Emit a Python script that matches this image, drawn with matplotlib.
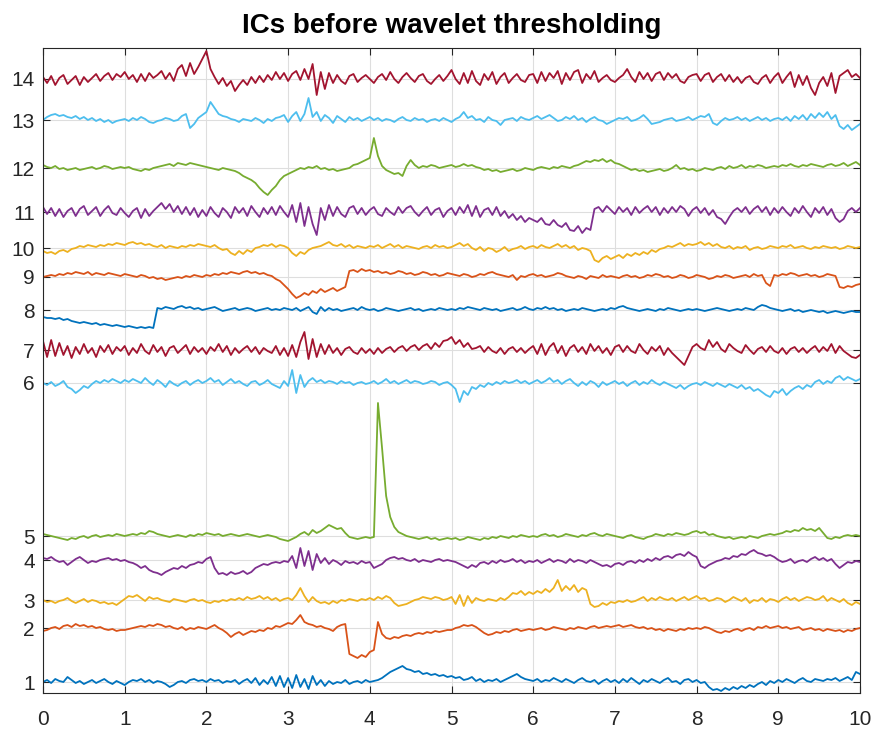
import numpy as np
import matplotlib.pyplot as plt

# time axis: samples every 0.05 s from 0 to 10 s
t = np.linspace(0, 10, 201)

# baseline of each IC (axis units, bottom of the plot = 0)
offsets = [11, 65, 93, 133, 157, 310, 343, 383, 416, 445, 481, 525, 573, 614]
labels = [str(i) for i in range(1, 15)]

# deviations from the baseline (one row per second)
ic1 = [0, 2, -1, 3, 1, 0, 5, 2, -1, 1, -2, 0, 2, -1, 1, 3, 0, -2, 1, -1,
       -3, 0, 2, 1, 3, 0, 2, -1, 1, 0, -2, -5, -3, 0, 1, -1, 2, 3, 1, 2,
       0, 3, 1, 2, -1, 1, 0, 2, -2, 1, 3, -1, 4, -3, 2, -2, 5, -4, 6, -5,
       4, -6, 7, -5, 3, -7, 6, -3, 2, -4, 1, -2, 0, -1, 2, -2, 0, 1, -1, 2,
       0, 1, 2, 4, 7, 10, 12, 14, 16, 13, 12, 10, 11, 8, 9, 7, 8, 6, 7, 5,
       6, 4, 5, 2, 3, 5, 1, 3, 0, 2, 1, 3, 0, 2, 4, 6, 8, 5, 3, 2,
       1, 3, 0, 2, 1, 4, 2, 0, 3, 1, -1, 2, 4, 1, 0, 2, -2, 1, 3, 0,
       2, -1, 3, 0, 4, 1, -2, 2, 0, 3, 1, -1, 2, 4, 0, 1, -2, 2, 3, 0,
       2, -1, 0, -5, -8, -7, -9, -6, -8, -5, -7, -4, -6, -3, -5, -2, 0, -3, 1, -1,
       2, 0, 3, 1, -1, 2, 4, 1, 0, 3, 2, 1, 3, 2, 4, 1, 3, 5, 2, 10,
       8]
ic2 = [-3, -2, 0, 1, -1, 2, 3, 1, 4, 2, 3, 1, 2, 0, 1, -1, -2, -1, -3, -2,
       -2, -1, 0, 1, 2, 1, 3, 2, 4, 3, 1, 2, 0, -1, 1, -2, 0, -1, 1, 0,
       -1, 1, 3, 0, -2, -5, -9, -6, -4, -7, -5, -3, -4, -2, -3, 0, -1, 2, 1, 3,
       5, 4, 8, 13, 6, 4, 3, 1, 2, 0, -1, -3, 1, 3, 4, -26, -28, -30, -27, -29,
       -24, -22, 6, -6, -10, -11, -9, -10, -8, -7, -8, -6, -5, -6, -4, -5, -3, -4, -3, -2,
       -2, 0, 1, 3, 2, 3, 1, -2, -5, -7, -6, -4, -5, -3, -4, -2, -1, -3, -2, -1,
       -2, -1, 0, -2, -1, 1, 0, -1, -2, 0, -1, 1, 0, -1, 1, 2, 0, 1, 2, 1,
       2, 3, 1, 2, 3, 1, 0, 1, -1, 0, -2, -1, -3, -1, -2, -3, -1, -2, 0, -1,
       0, -1, 1, 0, -2, -4, -5, -3, -4, -2, -1, -3, -1, 0, -2, 1, 0, 2, 0, 1,
       2, 0, 1, -1, 0, 1, -2, -1, 0, -2, -1, -3, -1, -2, -3, -2, -4, -2, -3, -1,
       0]
ic3 = [0, -2, -1, -3, -1, 0, 2, -1, -3, -1, 1, -2, 0, -1, -3, -2, -4, -3, -5, -2,
       1, 4, 3, 5, 2, -1, 3, 1, 2, 0, -1, -2, 1, 0, -1, -2, 0, 1, -1, 0,
       -2, -3, -1, -2, 0, -1, 1, 0, 2, 0, 3, 1, 2, 4, 1, 3, 0, 2, -1, 1,
       2, 0, 5, 12, 4, -2, 3, -1, -3, -2, -4, -1, -3, 0, -1, 1, 0, -1, 1, 0,
       2, 0, 3, 1, 4, 2, -3, -6, -5, -4, -2, 0, 1, 3, 2, 1, 3, 2, 0, 1,
       3, -4, 5, -6, 4, -3, 2, 0, -1, 1, 0, -1, 2, 0, 3, 7, 6, 9, 5, 8,
       6, 9, 7, 11, 8, 12, 20, 9, 14, 10, 15, 8, 12, 10, -4, -7, -6, -3, -5, -2,
       -3, -1, -2, 0, -2, -1, 1, 3, -1, 2, 0, 3, 1, 0, 2, -1, 1, 3, 0, 2,
       4, 1, 2, -1, 0, 2, 1, -2, 0, 3, 1, -1, 2, -3, 0, -1, 2, -2, 1, 0,
       -2, 1, 3, 0, 2, -1, 1, 3, 2, 0, 1, 4, -1, 2, 0, -2, 1, -3, -5, -2,
       -4]
ic4 = [2, 1, 3, 0, -2, -1, -5, -2, 1, 3, 0, -3, -1, -2, 0, 1, 2, 0, 1, -1,
       0, -2, -3, -5, -8, -6, -10, -12, -13, -15, -12, -10, -8, -9, -6, -8, -5, -4, -2, -3,
       1, 3, -8, -14, -13, -15, -12, -14, -13, -11, -14, -12, -8, -6, -4, -5, -3, -2, -3, -1,
       -2, 4, -8, 12, -6, 9, -10, 6, -3, 2, -4, 0, -2, -5, -1, -3, -2, -4, -1, -3,
       -2, -8, -6, -4, 0, 2, 3, 1, 2, 0, -1, 1, -2, 0, -1, -2, 0, 1, -1, 0,
       -1, -2, -4, -6, -8, -5, -7, -3, -2, -4, -1, -3, 0, -2, -1, 1, -2, 0, -3, -1,
       -2, 0, -3, -1, 1, -2, 0, -1, -3, 1, -2, 0, -1, -3, 0, -2, -4, -6, -5, -7,
       -4, -3, -5, -2, -1, -3, 0, -2, 1, -1, 2, 0, 3, 4, 2, 5, 6, 4, 8, 5,
       3, -6, -8, -5, -3, -1, 0, 2, 1, 4, 3, 6, 5, 8, 10, 7, 6, 4, 5, 3,
       0, -2, -1, 1, -3, -1, 0, -2, 1, 3, 0, 2, -1, 1, -4, -8, -5, -2, -3, -1,
       -2]
ic5 = [2, 1, 0, -1, -2, -3, -4, -2, -3, -1, 0, -2, 0, 1, -1, 0, 1, 0, 2, 1,
       0, 1, 2, 1, 3, 2, 5, 4, 2, 1, 0, -1, 0, 1, 0, -1, 1, 0, 2, 1,
       3, 2, 1, 2, 0, 1, 2, 1, 0, 1, 2, 1, 0, -1, 0, 1, 0, -1, -3, -4,
       -5, -3, -1, 2, 4, 1, 6, 3, 5, 8, 11, 9, 7, 8, 3, -1, -2, -3, -2, -1,
       -2, -1, 133, 88, 40, 19, 9, 4, 2, 0, -1, -2, -3, -2, -1, -3, -2, -4, -3, -2,
       -3, -2, -4, -3, -1, -2, -3, -4, -2, -3, -1, -2, 0, -1, -2, 0, -1, 1, 0, -1,
       0, -1, 1, 2, 0, 1, -1, 0, 2, 1, 0, -1, 1, 0, 2, 3, 1, 0, 2, 1,
       0, -1, -2, 0, 1, -1, -2, -3, -1, 0, 2, 1, 0, 2, 1, 3, 2, 1, 2, 4,
       5, 3, 4, 1, 2, 0, -1, -2, -1, -3, -2, -1, -2, 0, -1, -2, 0, 1, 2, 1,
       2, 3, 5, 4, 6, 5, 8, 6, 7, 5, 8, 3, -2, -3, -1, -2, 0, 1, 0, 1,
       0]
ic6 = [0, -2, 1, -3, -1, 2, -4, -6, -10, -7, -3, -5, -1, 2, 0, 3, 1, 4, 2, 0,
       3, 1, 4, 2, 0, 5, 1, -2, 3, 0, -4, 2, -1, -3, 0, 2, -2, 1, 3, 0,
       2, 5, 1, 3, -2, 1, 4, 0, 2, -1, -3, 1, 2, -2, 0, 3, -1, -3, -5, 2,
       -3, 13, -10, 8, -4, 2, 5, 1, 3, 0, 2, 1, -1, 2, 0, 1, -2, 0, 1, -1,
       0, 2, -1, 1, 4, 0, 2, -1, 1, 3, 0, 2, 1, -1, 0, 2, 1, -2, 0, 1,
       -2, -6, -19, -8, -12, -4, -6, -2, -4, 0, -2, 1, -1, 2, 0, 1, 3, 0, 2, -1,
       1, 3, 0, 2, 5, 1, 3, -1, 2, 4, 0, -3, 1, -2, 2, 0, -4, 1, -2, 0,
       2, -1, 1, -3, 0, 2, -2, 1, -1, 3, 0, -2, 1, -1, -3, -5, -2, -6, -3, -1,
       0, -2, 1, -1, -3, 0, -2, -4, -1, -3, -5, -2, -6, -4, -8, -6, -9, -12, -14, -8,
       -10, -6, -12, -8, -5, -3, -6, -2, -4, 1, 3, -1, 2, 0, 5, 7, 3, 6, 4, 2,
       4]
ic7 = [9, -7, 10, -6, 7, -5, 4, -8, 3, -4, 6, -3, 2, -7, 4, -2, 5, -4, 3, -1,
       4, -5, 2, -3, 6, -1, -4, 5, -2, 3, -6, 2, 4, -3, 1, 5, -4, 3, -2, 2,
       -4, 3, -1, 6, -2, 4, -5, 2, -3, 1, 4, -2, 3, -4, 2, -1, -3, 4, -5, 2,
       -6, 5, -7, 8, 18, -9, 11, -7, 6, -4, 5, -3, 2, -5, 1, 3, -2, -4, 2, -3,
       1, -4, 2, -3, 1, 3, -2, 2, 4, -1, 3, 5, 0, 4, 6, 1, 7, 3, 9, 10,
       13, 6, 10, 3, 7, 1, 2, 4, -2, 3, -1, -3, 2, -4, 1, 3, -2, 2, -3, 1,
       4, -4, 6, -5, 3, 7, -3, 4, -6, 2, 5, -2, 3, -4, 6, -1, 4, -3, 2, -5,
       3, 5, -2, 4, -1, -3, 6, 0, -4, 3, -1, 4, -5, 2, -3, -7, -11, -15, -6, 3,
       6, 2, 0, 10, 3, 8, 1, -2, 6, 2, -1, -3, 5, 0, -4, 1, 3, -2, 4, -1,
       -3, 2, -4, 1, 3, -2, 2, -3, 1, 4, -2, 3, -1, 6, -3, 4, -1, -4, -7, -8,
       -5]
ic8 = [-7, -8, -8, -9, -8, -10, -9, -11, -12, -13, -12, -13, -14, -13, -15, -14, -15, -16, -15, -16,
       -17, -16, -17, -18, -17, -18, -17, -18, 2, 1, 3, 2, 1, 3, 4, 2, 3, 1, 2, 0,
       1, 2, 3, 1, -1, 0, 1, 2, 0, 1, 2, 1, -1, 0, 1, 2, 0, 1, 0, 2,
       1, 0, 2, -1, 1, 3, -2, -4, 3, -1, 2, 0, 1, -1, 0, 1, 2, 0, 3, 1,
       0, 1, -1, 0, 2, 1, 0, -1, 0, 1, 2, 0, 1, -1, 0, 1, 0, 2, 1, 0,
       1, 0, 2, 1, 3, 2, 1, 0, 2, 1, 0, 1, -1, 0, 1, 2, 0, 1, 3, 1,
       0, 2, 1, 3, 1, 2, 0, 1, -1, 0, 1, 0, 2, 1, 0, -1, 0, 1, 0, 2,
       1, 3, 4, 2, 1, 0, -1, 0, 1, 0, -1, 1, 0, 2, 1, 0, -1, 0, 1, 0,
       1, 0, -1, 0, 1, 2, 1, 0, -1, 0, 1, 0, 2, 1, 0, 3, 5, 4, 2, 1,
       0, -1, 0, 1, -1, 0, -2, -1, 0, -1, -2, -1, -3, -2, -1, -2, -3, -2, -1, -2,
       -2]
ic9 = [0, 1, 2, 1, 3, 2, 4, 3, 5, 4, 3, 5, 2, 4, 3, 2, 4, 3, 2, 1,
       3, 2, 1, 0, 2, 1, -1, 0, -2, -1, -3, -2, -1, 0, -1, 1, 0, 2, 1, 0,
       2, 1, 3, 2, 4, 3, 5, 4, 3, 5, 6, 4, 5, 3, 4, 2, 1, -2, -4, -8,
       -12, -17, -21, -19, -16, -18, -14, -16, -12, -15, -13, -11, -14, -12, -10, 6, 7, 5, 8, 6,
       7, 5, 6, 4, 5, 3, 4, 6, 5, 3, 4, 2, 3, 5, 4, 2, 3, 1, 2, 4,
       3, 2, 1, 3, 2, 0, 1, 3, 2, 4, 5, 3, 2, 1, 0, 2, -3, 1, 0, 2,
       3, 1, 2, 0, 1, 2, 4, 3, 1, 0, -1, 1, 0, -2, 1, 0, -1, 2, 0, 1,
       0, -1, 1, 2, 0, 1, -1, 0, 2, 1, 3, 2, 0, 1, -1, 0, 2, 1, -1, 0,
       2, 1, 0, -2, -1, 1, 0, 2, 1, -1, 0, 1, 2, 0, 3, 1, 2, -6, -9, 2,
       1, 3, 2, 4, 3, 1, 2, 3, 1, 2, 0, 1, 3, 2, 1, -10, -11, -9, -10, -8,
       -7]
ic10 = [-3, -5, -4, -6, -3, -2, -4, -1, 0, 2, 1, 3, 2, 1, 3, 2, 4, 3, 5, 4,
        3, 5, 6, 4, 5, 3, 4, 2, 1, 3, 0, 2, 1, 0, 2, 1, 3, 2, 4, 3,
        2, 1, 3, 0, -2, -1, -5, -7, -3, -6, -2, -4, 0, 1, 3, 2, 4, 1, 3, 2,
        0, -5, -8, -4, -6, -2, 0, 1, 2, 4, 6, 3, 2, 4, 1, 3, 0, 2, 1, 0,
        2, 1, 3, 0, 2, 4, 1, 3, 0, 2, 1, 0, -1, 1, 2, 0, 3, 1, 2, 0,
        1, 3, 5, 2, 4, 0, -2, 1, -3, 0, -1, -4, -2, 1, -3, -1, 0, 2, -1, 1,
        2, 0, 3, 1, 0, 2, 4, 1, 3, 0, 2, -2, 0, -1, -3, -12, -14, -10, -8, -11,
        -9, -7, -10, -6, -8, -5, -7, -4, -6, -2, -4, -1, 0, 2, 1, 3, 5, 2, 4, 3,
        4, 6, 3, 5, 2, 4, 1, 0, 2, -1, 1, 0, 2, -2, 0, 1, -1, 0, 2, 1,
        0, 2, 1, 3, 0, 1, 2, 0, -1, 1, 0, 2, 1, 0, 1, -1, 0, 2, 1, 0,
        1]
ic11 = [5, -2, 4, -4, 3, -5, 1, 4, -4, 3, 6, -3, 1, 5, -4, 2, 6, -1, -3, 4,
        -1, -5, 1, 4, -6, 3, -4, 1, 5, 9, 3, 8, 0, 6, -2, 5, -3, 4, -5, 2,
        -4, 5, -1, -5, 4, 0, -6, 5, -1, 4, -4, 6, 0, -5, 4, -2, 5, -3, 6, 0,
        -5, 7, -10, 9, -14, 5, -12, -23, 4, -8, 7, -4, 5, -2, -5, 4, 6, -2, 4, -3,
        2, 5, -2, -4, 4, 0, -3, 5, -1, 4, 6, 0, -4, 1, 5, -3, 2, 4, -5, 1,
        4, -3, 5, -1, 7, -4, 6, -5, 2, 4, -3, 5, -4, 1, -6, -2, -8, -4, -10, -6,
        -8, -10, -6, -12, -13, -8, -13, -15, -11, -18, -19, -14, -21, -16, -18, 3, 5, 0, 6, 2,
        -2, 5, 0, 4, -3, 5, -1, 3, 6, 0, 5, -3, 4, -1, 5, 0, 6, 3, -4, 2,
        5, -1, 4, -3, 2, -5, -7, -12, -5, 1, 4, 0, 5, -2, 3, 6, 0, 5, -3, 4,
        -1, 5, 0, -4, 4, -1, 6, 0, -5, 4, -1, 5, -3, 3, -6, -10, -7, 1, 4, 0,
        4]
ic12 = [3, 1, 0, 2, -1, 0, -2, -1, 0, -2, -1, 0, 1, -1, 0, 2, 1, -1, 0, 1,
        0, 1, -1, -2, -3, -1, -2, 0, 1, 2, 3, 4, 2, 5, 4, 3, 5, 4, 3, 2,
        1, 0, -1, -2, 0, -1, -2, -3, -5, -8, -10, -12, -15, -20, -24, -27, -22, -18, -12, -8,
        -6, -4, -2, 0, -1, 1, 0, 2, -1, 0, -2, -1, -3, -2, -1, 0, 3, 4, 6, 8,
        10, 30, 12, 2, -2, -4, -6, -5, -8, 2, 8, 3, 0, 2, 1, 3, 2, 0, 1, 2,
        3, 1, 2, 4, 2, 3, 1, 0, -2, -1, -3, -2, -4, -3, -2, -1, -3, -2, 0, -1,
        -2, 0, 1, 0, -1, 1, 0, 2, 1, 0, 2, 3, 5, 7, 6, 8, 7, 9, 6, 8,
        5, 4, 2, 0, -2, -1, -3, -2, -4, -3, -2, -1, -3, -2, 0, 3, -1, 0, -2, -1,
        -3, -2, 0, -1, -2, 0, 1, -1, 2, 0, 1, 3, 0, 2, 1, 3, 2, 0, 1, 2,
        1, 3, 2, 4, 2, 1, 3, 2, 4, 3, 2, 1, 3, 4, 2, 3, 5, 2, 4, 6,
        3]
ic13 = [0, 3, 5, 6, 4, 5, 3, 2, 4, 1, 3, 0, 2, -1, 1, -2, 0, -3, -1, 0,
        1, -1, 2, 0, 3, 1, -2, -3, -1, 0, 2, 1, -1, 0, 4, 6, -8, -4, 2, 5,
        8, 18, 12, 6, 4, 3, 1, 0, -2, 1, 0, -1, 2, 0, -3, 1, -1, 2, 3, 5,
        -2, 4, 8, -1, 6, 22, 3, 8, -1, 5, 2, -3, 4, 1, -2, 3, 0, 2, -1, 1,
        3, 0, 2, -1, 1, 0, -2, 1, 3, 0, -1, 2, 0, 1, -2, 0, 1, -1, 2, 0,
        -2, 1, 3, 8, 2, 4, 0, 1, -2, 3, 0, -1, -5, 0, 1, 2, -1, 3, 1, 0,
        2, 4, 1, 3, 5, 2, -1, 0, 3, 1, 4, 0, 2, -2, 1, 3, 0, -1, -4, -2,
        0, 2, 1, 3, -1, 0, 2, 5, 1, -4, -3, -2, 0, 1, 2, -1, 0, 1, 3, 0,
        2, 4, 3, 6, -3, -5, -1, 2, 0, 1, 3, 0, 2, -1, 1, 3, 0, 2, -1, 1,
        2, 0, 3, -1, 4, 1, 5, 0, 6, 2, 7, 3, 8, 1, 5, -6, -9, -5, -10, -7,
        -4]
ic14 = [2, -4, 3, -6, 1, 4, -5, -1, 3, -6, 2, -3, 1, 5, -2, 3, 6, -1, 5, 2,
        7, 0, 4, -3, 5, -2, 6, 1, 4, 8, 0, 6, -2, 10, 14, 3, 16, 5, 12, 20,
        28, 10, 2, -5, 1, -7, -2, -12, -6, -1, -6, 2, -4, 3, -3, 4, -1, 7, 0, 6,
        -2, 5, 8, -1, 10, 0, 15, -16, 7, -10, 6, -4, 4, -2, -5, 3, 5, -3, 1, 4,
        0, -4, 2, 5, -1, 7, 0, -4, 2, 6, 1, -3, 3, 5, -2, -5, 0, 4, -2, 3,
        9, 0, -5, 6, -4, 8, -2, -6, 5, -1, 7, -5, 2, 6, -4, 1, 5, -1, -3, 4,
        5, -4, 7, -2, 6, 1, 8, -5, 6, -1, 7, 9, -4, 5, 0, 8, -3, 1, 4, -1,
        -3, 1, 4, 10, 2, -3, 7, 0, 6, -2, 5, 7, -1, 6, 1, 5, -2, -4, 2, 4,
        5, -2, 4, 6, -3, 2, 5, -2, 4, -3, 2, -4, 1, 3, -3, -5, 1, 4, -4, 2,
        6, -4, 2, 7, -8, 4, -6, 3, -9, -16, -4, 2, -7, 6, -14, 3, 6, 9, 2, 5,
        1]

ics = [ic1, ic2, ic3, ic4, ic5, ic6, ic7, ic8, ic9, ic10, ic11, ic12, ic13, ic14]

# MATLAB default colour order
colors = ['#0072BD', '#D95319', '#EDB120', '#7E2F8E', '#77AC30', '#4DBEEE', '#A2142F']

plt.rcParams['font.family'] = ['Liberation Sans', 'DejaVu Sans']

fig = plt.figure(figsize=(8.77, 7.31), dpi=100)
ax = fig.add_axes([43 / 877, 1 - 693 / 731, (860 - 43) / 877, (693 - 48) / 731])

for i, ic in enumerate(ics):
    ax.plot(t, offsets[i] + np.array(ic), color=colors[i % 7], lw=1.3)

ax.set_xlim(0, 10)
ax.set_ylim(0, 645)
ax.set_xticks(range(11))
ax.set_yticks(offsets)
ax.set_yticklabels(labels)
ax.grid(True, color='#dedede', lw=0.8)
ax.set_axisbelow(True)
ax.tick_params(direction='in', top=True, right=True, labelsize=15,
               length=5, width=0.8, colors='#262626')
ax.tick_params(axis='x', pad=12)
ax.tick_params(axis='y', pad=6)
for s in ax.spines.values():
    s.set_color('#262626')
    s.set_linewidth(0.8)

ax.set_title('ICs before wavelet thresholding', fontsize=20, fontweight='bold', pad=11)

fig.savefig('out.png', dpi=100)
